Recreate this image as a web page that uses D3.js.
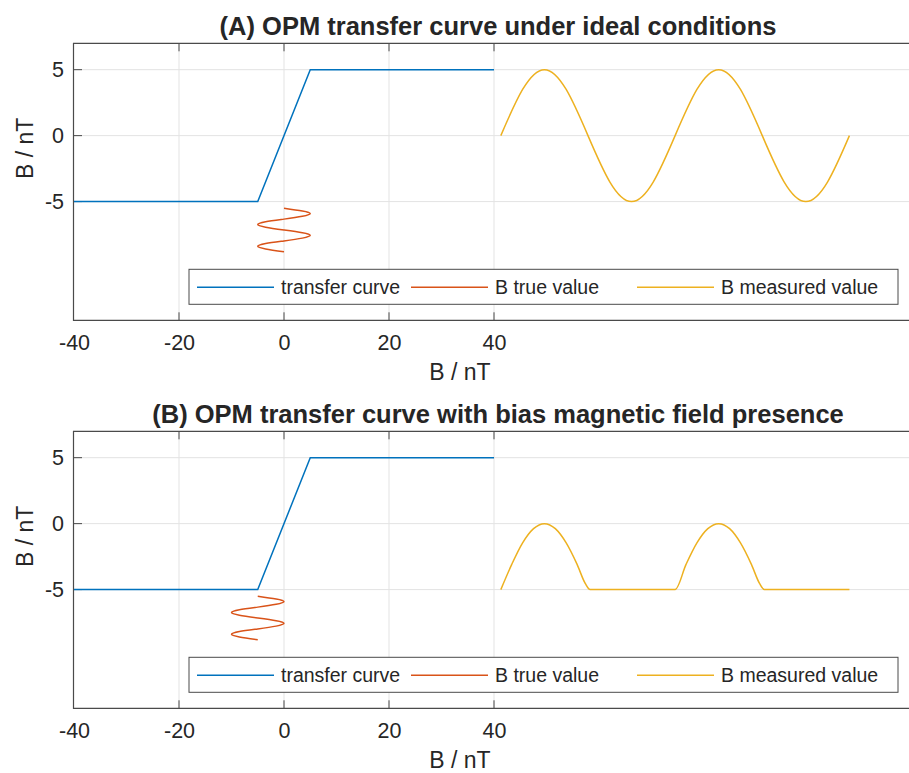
<!DOCTYPE html>
<html>
<head>
<meta charset="utf-8">
<script src="https://cdn.jsdelivr.net/npm/d3@7"></script>
<style>
  body { margin: 0; background: #fff; }
  text { font-family: "Liberation Sans", Arial, Helvetica, sans-serif; fill: #262626; }
</style>
</head>
<body>
<svg id="chart"></svg>
<script>
  // data
  var xTicks = [-40, -20, 0, 20, 40];
  var yTicks = [-5, 0, 5];
  var titles = ["(A) OPM transfer curve under ideal conditions",
                "(B) OPM transfer curve with bias magnetic field presence"];
  var legendLabels = ["transfer curve", "B true value", "B measured value"];

  var transferX = [-40, -5, 5, 40];
  var transferY = [-5, -5, 5, 5];

  var trueY = [-5.5, -5.71, -5.91, -6.12, -6.33, -6.53, -6.74, -6.94, -7.15,
               -7.36, -7.56, -7.77, -7.98, -8.18, -8.39, -8.59, -8.8];
  var trueXA = [0, 3.5, 5, 3.5, 0, -3.5, -5, -3.5, 0, 3.5, 5, 3.5, 0, -3.5, -5, -3.5, 0];
  var trueXB = [-5, -1.5, 0, -1.5, -5, -8.5, -10, -8.5, -5, -1.5, 0, -1.5, -5, -8.5, -10, -8.5, -5];

  var measXA = [41.3, 45.45, 49.6, 53.75, 57.9, 62.05, 66.2, 70.35, 74.5,
                78.65, 82.8, 86.95, 91.1, 95.25, 99.4, 103.55, 107.7];
  var measYA = [0, 3.5, 5, 3.5, 0, -3.5, -5, -3.5, 0, 3.5, 5, 3.5, 0, -3.5, -5, -3.5, 0];

  var measXB = [41.3, 43.38, 45.45, 47.53, 49.6, 51.68, 53.75, 55.83, 57.4, 58.3,
                74.5, 76.58, 78.65, 80.73, 82.8, 84.88, 86.95, 89.03, 90.6, 91.5, 107.7];
  var measYB = [-5, -3.09, -1.46, -0.38, 0, -0.38, -1.46, -3.09, -4.55, -5,
                -5, -3.09, -1.46, -0.38, 0, -0.38, -1.46, -3.09, -4.55, -5, -5];

  var colors = ["#0072BD", "#D95319", "#EDB120"];

  var W = 909, H = 773;
  var svg = d3.select("#chart").attr("width", W).attr("height", H);

  function zip(xs, ys) { return xs.map(function(x, i) { return [x, ys[i]]; }); }

  var panels = [
    { top: 43.3, title: titles[0], tx: trueXA, mx: measXA, my: measYA, mcurve: d3.curveNatural },
    { top: 431.3, title: titles[1], tx: trueXB, mx: measXB, my: measYB, mcurve: d3.curveMonotoneX }
  ];

  panels.forEach(function(p) {
    var top = p.top, bottom = top + 277;
    var x = d3.scaleLinear().domain([-40, 120]).range([74, 914]);
    var y = d3.scaleLinear().domain([-14, 7]).range([bottom, top]);
    var g = svg.append("g");

    // grid
    g.selectAll(".gx").data(xTicks.slice(1)).enter().append("line")
      .attr("x1", function(d) { return x(d); }).attr("x2", function(d) { return x(d); })
      .attr("y1", top).attr("y2", bottom)
      .attr("stroke", "#e3e3e3").attr("stroke-width", 1);
    g.selectAll(".gy").data(yTicks).enter().append("line")
      .attr("x1", 74).attr("x2", W)
      .attr("y1", function(d) { return y(d); }).attr("y2", function(d) { return y(d); })
      .attr("stroke", "#e3e3e3").attr("stroke-width", 1);

    // axes (hyphen minus like the original)
    var fmt = function(d) { return String(d); };
    var xAxis = d3.axisBottom(x).tickValues(xTicks).tickSize(0).tickPadding(14).tickFormat(fmt);
    var ax = g.append("g").attr("transform", "translate(0," + bottom + ")").call(xAxis);
    ax.select(".domain").remove();
    ax.selectAll("text").attr("font-size", 21.5).attr("fill", "#262626")
      .style("font-family", "'Liberation Sans', Arial, sans-serif");
    var yAxis = d3.axisLeft(y).tickValues(yTicks).tickSize(0).tickPadding(10).tickFormat(fmt);
    var ay = g.append("g").attr("transform", "translate(74,0)").call(yAxis);
    ay.select(".domain").remove();
    ay.selectAll("text").attr("font-size", 21.5).attr("fill", "#262626")
      .style("font-family", "'Liberation Sans', Arial, sans-serif");

    // tick marks (inward, top and bottom)
    xTicks.slice(1).forEach(function(t) {
      g.append("line").attr("x1", x(t)).attr("x2", x(t)).attr("y1", top).attr("y2", top + 8)
        .attr("stroke", "#4a4a4a");
      g.append("line").attr("x1", x(t)).attr("x2", x(t)).attr("y1", bottom).attr("y2", bottom - 8)
        .attr("stroke", "#4a4a4a");
    });
    yTicks.forEach(function(t) {
      g.append("line").attr("x1", 74).attr("x2", 82).attr("y1", y(t)).attr("y2", y(t))
        .attr("stroke", "#4a4a4a");
    });

    // box lines
    g.append("path").attr("d", "M" + W + "," + top + "H73.5V" + bottom + "H" + W)
      .attr("fill", "none").attr("stroke", "#4a4a4a").attr("stroke-width", 1.2);

    // series
    var line = d3.line().x(function(d) { return x(d[0]); }).y(function(d) { return y(d[1]); });
    g.append("path").attr("d", line(zip(transferX, transferY)))
      .attr("fill", "none").attr("stroke", colors[0]).attr("stroke-width", 1.5);
    g.append("path").attr("d", line.curve(d3.curveNatural)(zip(p.tx, trueY)))
      .attr("fill", "none").attr("stroke", colors[1]).attr("stroke-width", 1.5);
    g.append("path").attr("d", line.curve(p.mcurve)(zip(p.mx, p.my)))
      .attr("fill", "none").attr("stroke", colors[2]).attr("stroke-width", 1.5);

    // legend
    var lg = g.append("g").attr("transform", "translate(189," + (top + 226) + ")");
    lg.append("rect").attr("width", 709).attr("height", 35)
      .attr("fill", "#fff").attr("stroke", "#4a4a4a").attr("stroke-width", 1);
    var offs = [8, 222, 448];
    legendLabels.forEach(function(lab, i) {
      lg.append("line").attr("x1", offs[i]).attr("x2", offs[i] + 77)
        .attr("y1", 18).attr("y2", 18).attr("stroke", colors[i]).attr("stroke-width", 1.5);
      lg.append("text").attr("x", offs[i] + 84).attr("y", 18).attr("dy", "0.35em")
        .attr("font-size", 19.5).text(lab);
    });

    // titles and labels
    g.append("text").attr("x", 498).attr("y", top - 8).attr("text-anchor", "middle")
      .attr("font-size", 25.5).attr("font-weight", "bold").attr("fill", "#000").text(p.title);
    g.append("text").attr("x", 460).attr("y", top + 337).attr("text-anchor", "middle")
      .attr("font-size", 23).text("B / nT");
    g.append("text").attr("transform", "translate(33," + (top + 105) + ") rotate(-90)")
      .attr("text-anchor", "middle").attr("font-size", 23).text("B / nT");
  });
</script>
</body>
</html>
